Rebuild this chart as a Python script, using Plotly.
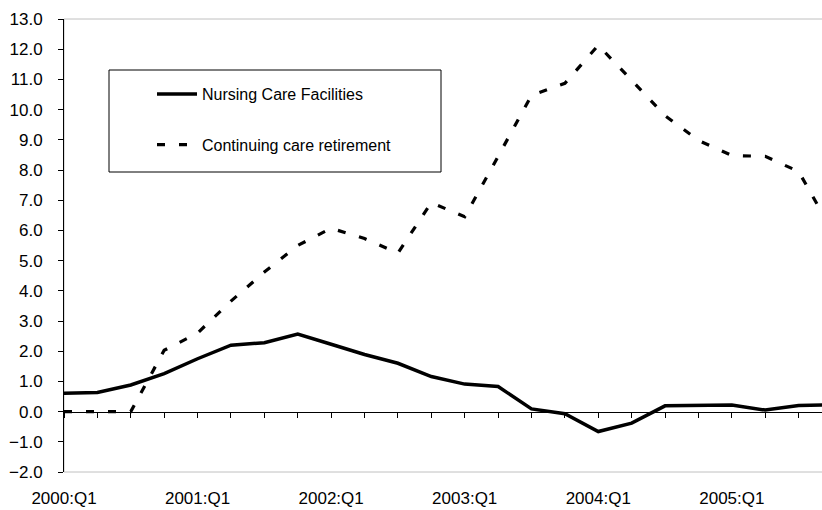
import plotly.graph_objects as go

quarters = [f"{y}:Q{q}" for y in range(2000, 2006) for q in range(1, 5)]

nursing = [0.61, 0.63, 0.88, 1.26, 1.75, 2.20, 2.28, 2.57, 2.23, 1.89, 1.60, 1.16,
           0.91, 0.83, 0.09, -0.07, -0.66, -0.38, 0.19, 0.20, 0.22, 0.05, 0.20, 0.23]
ccrc = [0.0, 0.0, 0.0, 2.03, 2.60, 3.66, 4.62, 5.50, 6.07, 5.73, 5.25, 6.92,
        6.45, 8.45, 10.47, 10.87, 12.13, 10.97, 9.80, 8.98, 8.48, 8.45, 7.95, 6.00]

FONT = "Liberation Sans, Arial, sans-serif"

fig = go.Figure()
fig.add_trace(go.Scatter(x=quarters, y=nursing, mode="lines", name="Nursing Care Facilities",
                         legendgroup="a", line=dict(color="black", width=3.5)))
fig.add_trace(go.Scatter(x=quarters, y=ccrc, mode="lines", name="Continuing care retirement",
                         legendgroup="b", line=dict(color="black", width=3.2, dash="8px,14px")))

fig.update_layout(
    width=822, height=510,
    margin=dict(l=64, r=0, t=19, b=38, autoexpand=False),
    paper_bgcolor="white", plot_bgcolor="white",
    font=dict(family=FONT, color="black", size=16),
    showlegend=True,
    legend=dict(x=(152-64)/758, y=(472-77)/453, xanchor="left", yanchor="top",
                bgcolor="rgba(0,0,0,0)", borderwidth=0, traceorder="grouped",
                tracegroupgap=27, itemwidth=40, font=dict(size=16, family=FONT)),
    xaxis=dict(type="category", categoryorder="array", categoryarray=quarters,
               range=[0, 22.7], tickmode="linear", tick0=0, dtick=1, ticklabelstep=4,
               showgrid=False, zeroline=False, showline=True, linecolor="black",
               linewidth=1, ticks="outside", ticklen=5, tickcolor="black",
               anchor="free", position=2/15, ticklabelstandoff=66, automargin=False,
               tickfont=dict(size=17)),
    yaxis=dict(range=[-2, 13], dtick=1, tick0=0, tickformat=".1f", showgrid=False,
               zeroline=False, showline=True, linecolor="black", linewidth=1,
               ticks="outside", ticklen=5, tickcolor="black", ticklabelstandoff=12,
               automargin=False, tickfont=dict(size=17)),
    shapes=[
        dict(type="rect", xref="paper", yref="paper", x0=0, x1=1.2, y0=0, y1=1,
             line=dict(color="#c0c0c0", width=1), fillcolor="rgba(0,0,0,0)", layer="below"),
        dict(type="rect", xref="paper", yref="paper",
             x0=(109-64)/758, x1=(441-64)/758, y0=(472-172)/453, y1=(472-70)/453,
             line=dict(color="black", width=1), fillcolor="rgba(0,0,0,0)", layer="below"),
    ],
)

fig.write_html("out.html", config={"displayModeBar": False},
               post_script="document.body.style.margin='0';")
